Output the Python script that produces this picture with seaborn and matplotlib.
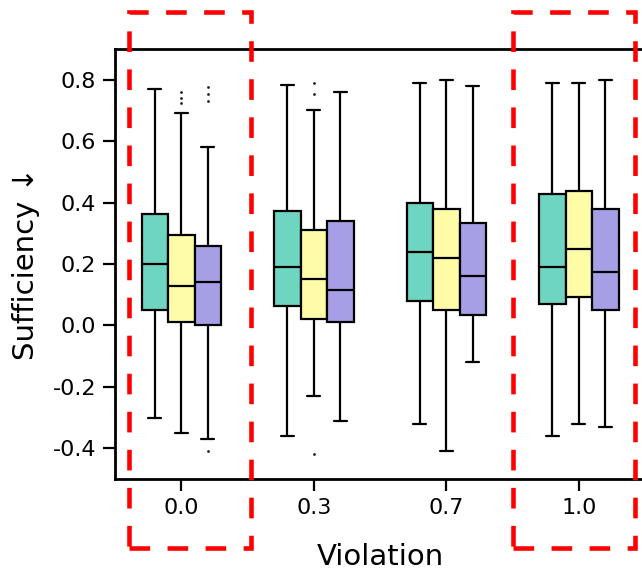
import numpy as np
import pandas as pd
import matplotlib
matplotlib.use("Agg")
import matplotlib.pyplot as plt
from matplotlib.patches import Rectangle
import seaborn as sns

# ---------------- data ----------------
violation = ["0.0", "0.3", "0.7", "1.0"]
methods = ["A", "B", "C"]
palette = ["#6dd5c0", "#fffca8", "#a79fe6"]

# five-number summaries: [lower whisker, Q1, median, Q3, upper whisker]
summary_A = [
    [-0.30, 0.050, 0.200, 0.363, 0.770],
    [-0.36, 0.062, 0.190, 0.372, 0.784],
    [-0.32, 0.080, 0.240, 0.400, 0.790],
    [-0.36, 0.071, 0.190, 0.428, 0.790],
]
summary_B = [
    [-0.35, 0.010, 0.127, 0.294, 0.693],
    [-0.231, 0.020, 0.150, 0.310, 0.703],
    [-0.41, 0.050, 0.220, 0.380, 0.800],
    [-0.32, 0.092, 0.250, 0.439, 0.790],
]
summary_C = [
    [-0.37, 0.000, 0.140, 0.260, 0.580],
    [-0.31, 0.010, 0.114, 0.341, 0.760],
    [-0.12, 0.035, 0.160, 0.335, 0.780],
    [-0.33, 0.051, 0.174, 0.378, 0.800],
]
# outliers per (violation, method)
outliers_A = [[], [], [], []]
outliers_B = [[0.725, 0.742, 0.761], [0.752, 0.790, -0.42], [], []]
outliers_C = [[0.732, 0.752, 0.775, -0.41], [], [], []]

yticks = [-0.4, -0.2, 0.0, 0.2, 0.4, 0.6, 0.8]

# ---------------- long-form table ----------------
rows = []
for m, summ in zip(methods, [summary_A, summary_B, summary_C]):
    for v, s in zip(violation, summ):
        for val in s:
            rows.append({"Violation": v, "Method": m, "Sufficiency": val})
df = pd.DataFrame(rows)

# ---------------- style ----------------
sns.set_style("ticks")
plt.rcParams["font.family"] = ["DejaVu Sans"]
plt.rcParams["axes.unicode_minus"] = False
plt.rcParams["text.color"] = "black"
plt.rcParams["axes.labelcolor"] = "black"

W, H = 642, 573
fig = plt.figure(figsize=(W / 100, H / 100), dpi=100)
left_px, right_px, top_px, bot_px = 115, 645, 49, 479
ax = fig.add_axes([left_px / W, 1 - bot_px / H,
                   (right_px - left_px) / W, (bot_px - top_px) / H])

sns.boxplot(data=df, x="Violation", y="Sufficiency", hue="Method",
            order=violation, hue_order=methods, palette=palette,
            whis=(0, 100), width=0.6, saturation=1, linewidth=1.6,
            linecolor="black", fliersize=0, legend=False, ax=ax)

# outliers placed at the centres of the drawn boxes
centers = []
for p in ax.patches:
    verts = p.get_path().vertices
    centers.append((verts[:, 0].min() + verts[:, 0].max()) / 2)
centers = sorted(centers)
all_out = [outliers_A, outliers_B, outliers_C]
k = 0
for gi in range(len(violation)):
    for hi in range(len(methods)):
        ys = all_out[hi][gi]
        if ys:
            ax.scatter([centers[k]] * len(ys), ys, s=4, color="#222222",
                       zorder=5, linewidths=0)
        k += 1

ax.set_xlim(-0.5, 3.5)
ax.set_ylim(-0.5, 0.9)
ax.set_yticks(yticks)
ax.set_yticklabels([f"{t:.1f}" for t in yticks])
for s in ["top", "left", "bottom", "right"]:
    ax.spines[s].set_visible(True)
    ax.spines[s].set_linewidth(2)
    ax.spines[s].set_color("black")
ax.tick_params(axis="both", direction="out", length=8.5, width=1.6,
               labelsize=16, pad=5, colors="black", labelcolor="black")
ax.set_xlabel("Violation", fontsize=21, labelpad=18, color="black")
ax.set_ylabel("Sufficiency ↓", fontsize=21, labelpad=9, color="black")

# red dashed highlight frames (figure pixel positions)
frames_px = [(128.5, 12, 250.5, 548), (512.5, 12, 635, 548)]
for x0, y0, x1, y1 in frames_px:
    r = Rectangle((x0 / W, 1 - y1 / H), (x1 - x0) / W, (y1 - y0) / H,
                  transform=fig.transFigure, fill=False, edgecolor="#ff0000",
                  linewidth=3.3, linestyle=(0, (4.5, 3.8)), clip_on=False,
                  zorder=10)
    fig.add_artist(r)

fig.savefig("out.png", dpi=100)
